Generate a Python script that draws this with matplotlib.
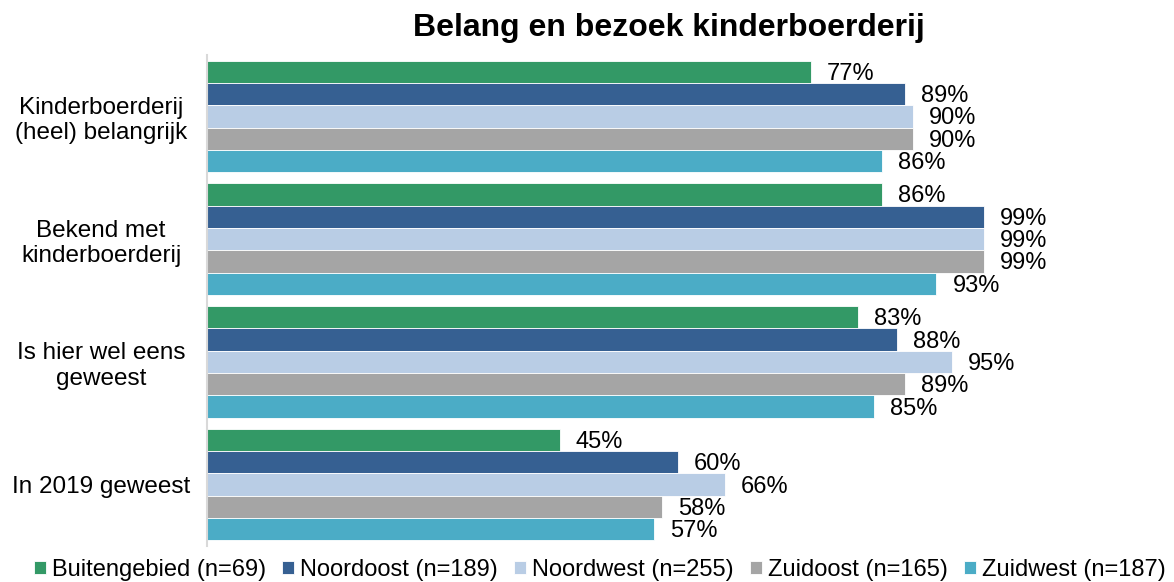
import matplotlib
matplotlib.use("Agg")
import matplotlib.pyplot as plt
import numpy as np

plt.rcParams['font.family'] = ['Liberation Sans', 'DejaVu Sans']

categories = ["Kinderboerderij\n(heel) belangrijk", "Bekend met\nkinderboerderij",
              "Is hier wel eens\ngeweest", "In 2019 geweest"]
series = ["Buitengebied (n=69)", "Noordoost (n=189)", "Noordwest (n=255)",
          "Zuidoost (n=165)", "Zuidwest (n=187)"]
buitengebied = [77, 86, 83, 45]
noordoost = [89, 99, 88, 60]
noordwest = [90, 99, 95, 66]
zuidoost = [90, 99, 89, 58]
zuidwest = [86, 93, 85, 57]
values = [buitengebied, noordoost, noordwest, zuidoost, zuidwest]
colors = ["#339966", "#366092", "#B9CDE5", "#A5A5A5", "#4BACC6"]

fig = plt.figure(figsize=(11.74, 5.82), dpi=100)
ax = fig.add_axes([207/1174, 1 - 546/582, (1120-207)/1174, (546-55)/582])

n = len(series)
bh = 0.182
y = np.arange(len(categories))
for i, (name, vals, c) in enumerate(zip(series, values, colors)):
    pos = y - (n - 1) / 2 * bh + i * bh
    bars = ax.barh(pos, vals, height=bh, color=c, edgecolor="white", linewidth=0.6, label=name)
    for b, v in zip(bars, vals):
        ax.annotate(f"{v}%", (b.get_width(), b.get_y() + b.get_height() / 2),
                    xytext=(16, -2), textcoords="offset pixels", ha="left", va="center",
                    fontsize=17, color="black")

ax.set_xlim(0, 116.4)
ax.set_ylim(len(categories) - 0.5, -0.5)
ax.set_yticks(y)
ax.set_yticklabels(categories, fontsize=17.5, ha="center", linespacing=1.2)
ax.tick_params(axis="y", length=0, pad=106 * 0.72)
ax.set_xticks([])
for s in ["top", "right", "bottom"]:
    ax.spines[s].set_visible(False)
ax.spines["left"].set_color("#D9D9D9")
ax.spines["left"].set_linewidth(1.5)

fig.text(669/1174, 1 - 28/582, "Belang en bezoek kinderboerderij", ha="center", va="center",
         fontsize=23, fontweight="bold")

handles, labels = ax.get_legend_handles_labels()
fig.legend(handles, labels, loc="center", bbox_to_anchor=(600/1174, 1 - 570/582), ncol=5,
           frameon=False, fontsize=17, handlelength=0.5, handleheight=0.5,
           handletextpad=0.25, columnspacing=0.7, borderpad=0)

fig.savefig("out.png", dpi=100)
